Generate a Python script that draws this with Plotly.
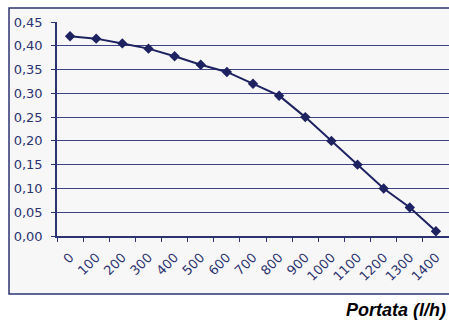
import plotly.graph_objects as go

categories = ["0", "100", "200", "300", "400", "500", "600", "700", "800", "900",
              "1000", "1100", "1200", "1300", "1400"]
values = [0.42, 0.415, 0.405, 0.394, 0.378, 0.36, 0.345, 0.32, 0.295, 0.25,
          0.20, 0.15, 0.10, 0.06, 0.01]
y_ticks = [0.00, 0.05, 0.10, 0.15, 0.20, 0.25, 0.30, 0.35, 0.40, 0.45]
x_title = "Portata (l/h)"

W, H = 449, 320
L, R, T, B = 57, 0, 22, 84
pw, ph = W - L - R, H - T - B

def px_x(x):
    return (x - L) / pw

def px_y(y):
    return (H - B - y) / ph

navy = "#2d3370"
line_c = "#1e2260"

fig = go.Figure()
fig.add_trace(go.Scatter(
    x=categories, y=values, mode="lines+markers",
    line=dict(color=line_c, width=2),
    marker=dict(symbol="diamond", size=8, color=line_c),
    showlegend=False, cliponaxis=False,
))

fig.add_shape(type="rect", xref="paper", yref="paper",
              x0=px_x(9), x1=px_x(460), y0=px_y(294), y1=px_y(8),
              fillcolor="#f7f7f7", line=dict(color=navy, width=1.5), layer="below")

fig.add_annotation(text="<b><i>" + x_title + "</i></b>", xref="paper", yref="paper",
                   x=px_x(448), y=px_y(310), xanchor="right", yanchor="middle",
                   showarrow=False, font=dict(family="Liberation Sans, Arial", size=18, color="#000000"))

fig.update_layout(
    width=W, height=H,
    margin=dict(l=L, r=R, t=T, b=B, autoexpand=False),
    paper_bgcolor="white", plot_bgcolor="rgba(0,0,0,0)",
    separators=", ",
    font=dict(family="DejaVu Sans, Verdana", size=13, color=navy),
    xaxis=dict(type="category", tickangle=-45, tickson="boundaries",
               ticks="outside", ticklen=4, tickcolor=navy, tickwidth=1.2,
               showline=True, linecolor=navy, linewidth=1.5,
               showgrid=False, zeroline=False, automargin=False,
               ticklabelstandoff=7,
               range=[-0.5, len(categories) - 0.5]),
    yaxis=dict(range=[0, 0.45], tickvals=y_ticks, tickformat=".2f",
               ticks="outside", ticklen=4, tickcolor=navy, tickwidth=1.2,
               showline=True, linecolor=navy, linewidth=1.5,
               showgrid=True, gridcolor="#3c4282", gridwidth=1.2,
               zeroline=False, ticklabelstandoff=6, automargin=False),
)

fig.write_html("out.html", config={"displayModeBar": False},
               post_script="document.body.style.margin='0';document.body.style.overflow='hidden';")
